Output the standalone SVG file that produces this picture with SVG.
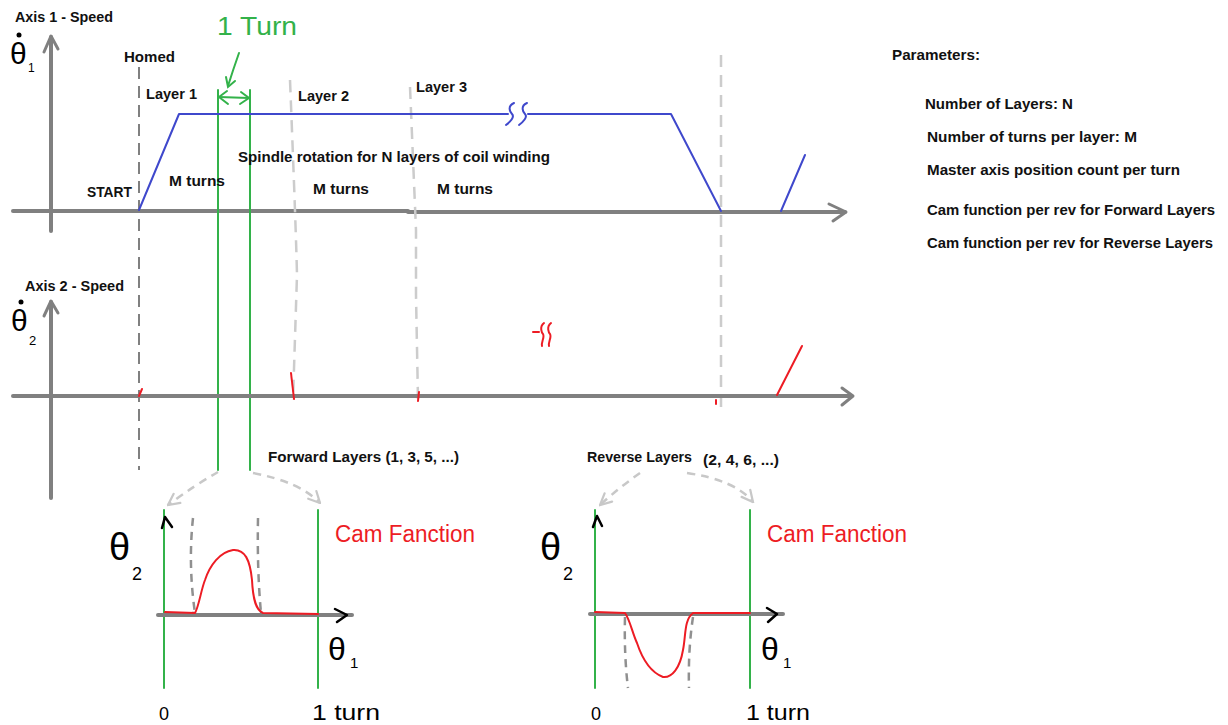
<svg xmlns="http://www.w3.org/2000/svg" width="1228" height="725" viewBox="0 0 1228 725">
<style>
.t{font-family:"Liberation Sans",Arial,sans-serif;font-weight:bold;font-size:15px;fill:#111}
.h{font-family:"Liberation Sans",Arial,sans-serif;font-weight:normal}
.ax{stroke:#808080;stroke-width:4;fill:none;stroke-linecap:round}
.chev{stroke:#808080;stroke-width:3;fill:none;stroke-linecap:round;stroke-linejoin:round}
.blue{stroke:#3f48cc;stroke-width:2;fill:none;stroke-linecap:round;stroke-linejoin:round}
.red{stroke:#ed1c24;stroke-width:2;fill:none;stroke-linecap:round;stroke-linejoin:round}
.grn{stroke:#33b24a;stroke-width:2;fill:none;stroke-linecap:round}
.dk{stroke:#808080;stroke-width:2;fill:none;stroke-dasharray:12 7}
.lt{stroke:#cccccc;stroke-width:2.5;fill:none;stroke-dasharray:12 8}
.cd{stroke:#909090;stroke-width:2.5;fill:none;stroke-dasharray:8 6}
.blk{stroke:#000;stroke-width:2.5;fill:none;stroke-linecap:round;stroke-linejoin:round}
.cam{fill:#ed1c24;font-size:23px}
.gtxt{fill:#33b24a}
</style>
<defs>
<marker id="ga" viewBox="0 0 10 10" refX="9" refY="5" markerWidth="14" markerHeight="14" markerUnits="userSpaceOnUse" orient="auto">
<path d="M1,1 L9,5 L1,9" fill="none" stroke="#c8c8c8" stroke-width="1.6" stroke-linecap="round"/>
</marker>
</defs>

<g id="axis1">
<line class="ax" x1="51" y1="37" x2="51" y2="231"/>
<path class="chev" d="M44,52 L51,36 L58,49"/>
<line class="ax" x1="13" y1="211" x2="408" y2="211"/>
<line class="ax" x1="408" y1="212" x2="845" y2="212"/>
<path class="chev" d="M829,204 L846,212 L833,221"/>
<text class="t" x="15" y="22" textLength="98" lengthAdjust="spacingAndGlyphs">Axis 1 - Speed</text>
<text class="h" x="10" y="64" font-size="30">θ</text>
<circle cx="19" cy="35" r="2.5" fill="#000"/>
<text class="h" x="28" y="72" font-size="12">1</text>
</g>

<g id="guides">
<line class="dk" x1="139" y1="67" x2="139" y2="470"/>
<path class="lt" d="M290,80 Q296,230 297,275 L293,400"/>
<path class="lt" d="M410,87 L416,230 L416,295 L418,400"/>
<line class="lt" x1="721" y1="55" x2="721" y2="410"/>
<line class="grn" x1="218" y1="90" x2="218" y2="470"/>
<line class="grn" x1="250" y1="90" x2="250" y2="470"/>
</g>

<g id="speed1">
<path class="blue" d="M139,210 L179,114 L508,114"/>
<path class="blue" d="M528,114 L671,114 L721,211"/>
<path class="blue" d="M514,103 C507,106 510,112 512,114 C515,117 510,122 506,125"/>
<path class="blue" d="M527,103 C520,106 523,112 525,114 C528,117 523,122 519,125"/>
<path class="blue" d="M781,211 L805,155"/>
</g>

<g id="labels1">
<text class="t" x="124" y="62" textLength="51" lengthAdjust="spacingAndGlyphs">Homed</text>
<text class="t" x="146" y="99" textLength="51" lengthAdjust="spacingAndGlyphs">Layer 1</text>
<text class="t" x="298" y="101" textLength="51" lengthAdjust="spacingAndGlyphs">Layer 2</text>
<text class="t" x="416" y="92" textLength="51" lengthAdjust="spacingAndGlyphs">Layer 3</text>
<text class="t" x="238" y="162" textLength="312" lengthAdjust="spacingAndGlyphs">Spindle rotation for N layers of coil winding</text>
<text class="t" x="169" y="186" textLength="56" lengthAdjust="spacingAndGlyphs">M turns</text>
<text class="t" x="87" y="197" textLength="45" lengthAdjust="spacingAndGlyphs">START</text>
<text class="t" x="313" y="194" textLength="56" lengthAdjust="spacingAndGlyphs">M turns</text>
<text class="t" x="437" y="194" textLength="56" lengthAdjust="spacingAndGlyphs">M turns</text>
</g>

<g id="turn">
<text class="h gtxt" x="217" y="35" font-size="26" textLength="80" lengthAdjust="spacingAndGlyphs">1 Turn</text>
<path class="grn" d="M239,53 Q233,70 228,86"/>
<path class="grn" d="M226,77 L228,87 L235,81"/>
<line class="grn" x1="219" y1="97" x2="249" y2="98"/>
<path class="grn" d="M227,91 L219,97 L228,104"/>
<path class="grn" d="M241,92 L249,98 L240,104"/>
</g>

<g id="parameters">
<text class="t" x="892" y="60" textLength="88" lengthAdjust="spacingAndGlyphs">Parameters:</text>
<text class="t" x="925" y="109" textLength="148" lengthAdjust="spacingAndGlyphs">Number of Layers: N</text>
<text class="t" x="927" y="142" textLength="210" lengthAdjust="spacingAndGlyphs">Number of turns per layer: M</text>
<text class="t" x="927" y="175" textLength="253" lengthAdjust="spacingAndGlyphs">Master axis position count per turn</text>
<text class="t" x="927" y="215" textLength="288" lengthAdjust="spacingAndGlyphs">Cam function per rev for Forward Layers</text>
<text class="t" x="927" y="248" textLength="286" lengthAdjust="spacingAndGlyphs">Cam function per rev for Reverse Layers</text>
</g>

<g id="axis2">
<line class="ax" x1="51" y1="302" x2="51" y2="498"/>
<path class="chev" d="M44,316 L51,301 L58,313"/>
<line class="ax" x1="13" y1="396" x2="851" y2="396"/>
<path class="chev" d="M842,388 L853,396 L842,405"/>
<text class="t" x="25" y="291" textLength="99" lengthAdjust="spacingAndGlyphs">Axis 2 - Speed</text>
<text class="h" x="11" y="331" font-size="30">θ</text>
<circle cx="21" cy="302" r="2.5" fill="#000"/>
<text class="h" x="29" y="345" font-size="13">2</text>
</g>

<g id="speed2">
<path class="red" d="M139,396 L142,389"/>
<path class="red" d="M291,373 L294,399"/>
<path class="red" d="M419,392 L418,401"/>
<path class="red" d="M716,400 L716,404"/>
<path class="red" d="M777,395 L802,346"/>
<path class="red" d="M533,332 L539,332"/>
<path class="red" d="M544,323 C539,327 542,333 543,334 C545,337 541,342 542,346"/>
<path class="red" d="M551,323 C546,327 549,333 550,334 C552,337 548,342 549,346"/>
</g>

<g id="connectors">
<path d="M218,472 Q195,485 168,505" fill="none" stroke="#c8c8c8" stroke-width="2.5" stroke-dasharray="8 6" marker-end="url(#ga)"/>
<path d="M253,473 Q300,482 320,503" fill="none" stroke="#c8c8c8" stroke-width="2.5" stroke-dasharray="8 6" marker-end="url(#ga)"/>
<path d="M640,473 Q620,487 600,505" fill="none" stroke="#c8c8c8" stroke-width="2.5" stroke-dasharray="8 6" marker-end="url(#ga)"/>
<path d="M687,473 Q735,480 753,502" fill="none" stroke="#c8c8c8" stroke-width="2.5" stroke-dasharray="8 6" marker-end="url(#ga)"/>
</g>

<g id="cam-forward">
<text class="t" x="268" y="462" textLength="191" lengthAdjust="spacingAndGlyphs">Forward Layers (1, 3, 5, ...)</text>
<line class="grn" x1="164" y1="510" x2="164" y2="688"/>
<line class="grn" x1="318" y1="510" x2="318" y2="688"/>
<path class="blk" d="M162,528 L165,517 L172,527"/>
<text class="h" x="109" y="560" font-size="38">θ</text>
<text class="h" x="132" y="580" font-size="18">2</text>
<line class="ax" x1="158" y1="615" x2="352" y2="615"/>
<path class="blk" d="M335,609 L347,615 L337,622"/>
<path class="cd" d="M193,518 Q188,565 195,613"/>
<path class="cd" d="M258,518 Q257,570 261,613"/>
<path d="M190,617 L193,611 L196,617 Z M258,617 L261,610 L264,617 Z" fill="#808080"/>
<path class="red" d="M165,612 L195,613 C199,606 201,590 205,580 C210,565 220,552 233,550 C245,549 250,560 252,580 C253,600 256,610 263,613 L318,614"/>
<text class="h cam" x="335" y="542" textLength="140" lengthAdjust="spacingAndGlyphs">Cam Fanction</text>
<text class="h" x="328" y="660" font-size="32">θ</text>
<text class="h" x="350" y="668" font-size="15">1</text>
<text class="h" x="159" y="720" font-size="18">0</text>
<text class="h" x="312" y="720" font-size="22" textLength="68" lengthAdjust="spacingAndGlyphs">1 turn</text>
</g>

<g id="cam-reverse">
<text class="t" x="587" y="462" textLength="105" lengthAdjust="spacingAndGlyphs">Reverse Layers</text>
<text class="t" x="703" y="465" textLength="76" lengthAdjust="spacingAndGlyphs">(2, 4, 6, ...)</text>
<line class="grn" x1="595" y1="510" x2="595" y2="688"/>
<line class="grn" x1="750" y1="510" x2="750" y2="688"/>
<path class="blk" d="M593,527 L597,516 L602,526"/>
<text class="h" x="540" y="560" font-size="38">θ</text>
<text class="h" x="563" y="580" font-size="18">2</text>
<line class="ax" x1="590" y1="614" x2="783" y2="614"/>
<path class="blk" d="M767,608 L777,614 L768,622"/>
<path class="cd" d="M625,617 Q624,655 628,688"/>
<path class="cd" d="M693,617 Q688,650 689,688"/>
<path class="red" d="M595,612 L625,613 C630,620 632,632 637,643 C642,658 650,672 663,677 C672,678 680,668 683,650 C686,635 684,620 693,613 L750,613"/>
<text class="h cam" x="767" y="542" textLength="140" lengthAdjust="spacingAndGlyphs">Cam Fanction</text>
<text class="h" x="761" y="660" font-size="32">θ</text>
<text class="h" x="783" y="668" font-size="15">1</text>
<text class="h" x="591" y="720" font-size="18">0</text>
<text class="h" x="746" y="720" font-size="22" textLength="64" lengthAdjust="spacingAndGlyphs">1 turn</text>
</g>
</svg>
